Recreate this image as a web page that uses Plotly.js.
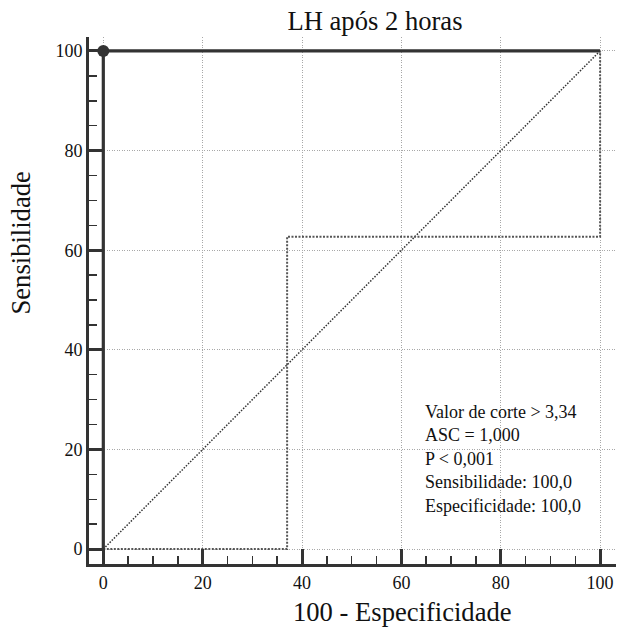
<!DOCTYPE html>
<html>
<head>
<meta charset="utf-8">
<script src="https://cdn.plot.ly/plotly-3.0.1.min.js"></script>
<style>html,body{margin:0;padding:0;background:#fff;}#chart{width:618px;height:631px;}</style>
</head>
<body>
<div id="chart"></div>
<script>
// ROC curve (100 - specificity, sensitivity)
const rocX = [0, 0, 100];
const rocY = [0, 100, 100];
// confidence bound step curve
const boundX = [0, 37, 37, 100, 100];
const boundY = [0, 0, 62.7, 62.7, 100];
// reference diagonal
const diagX = [0, 100];
const diagY = [0, 100];
// chosen cut-off point
const cutX = [0];
const cutY = [100];
// statistics box
const statLines = [
  "Valor de corte > 3,34",
  "ASC = 1,000",
  "P < 0,001",
  "Sensibilidade: 100,0",
  "Especificidade: 100,0"
];
const titleText = "LH após 2 horas";
const xTitle = "100 - Especificidade";
const yTitle = "Sensibilidade";
const tickVals = [0, 20, 40, 60, 80, 100];

const FONT = "Liberation Serif, Times New Roman, serif";
const dark = "#333333";

const traces = [
  {x: diagX, y: diagY, mode: "lines", line: {color: "#333", width: 1.5, dash: "1.5px,1.5px"}, hoverinfo: "skip"},
  {x: boundX, y: boundY, mode: "lines", line: {color: "#555", width: 2, dash: "2px,1.5px"}, hoverinfo: "skip"},
  {x: rocX, y: rocY, mode: "lines", line: {color: dark, width: 3.2}},
  {x: cutX, y: cutY, mode: "markers", marker: {color: dark, size: 12, symbol: "circle"}}
];

function makeAxis(range) {
  return {
    range: range,
    tickmode: "array",
    tickvals: tickVals,
    ticktext: tickVals.map(String),
    ticks: "inside",
    ticklen: 15,
    tickwidth: 3,
    tickcolor: dark,
    showline: true,
    linecolor: dark,
    linewidth: 3,
    showgrid: true,
    gridcolor: "#a8a8a8",
    gridwidth: 1,
    griddash: "1px,1.5px",
    zeroline: false,
    mirror: false,
    tickfont: {family: FONT, size: 18, color: "#111"},
    minor: {dtick: 5, tick0: 0, ticks: "inside", ticklen: 8, tickwidth: 1.5, tickcolor: dark, showgrid: false}
  };
}

const layout = {
  width: 618,
  height: 631,
  showlegend: false,
  font: {family: FONT, size: 18, color: "#111"},
  paper_bgcolor: "#fff",
  plot_bgcolor: "#fff",
  margin: {l: 89, r: 2, t: 37, b: 67, pad: 0},
  title: {text: titleText, font: {family: FONT, size: 26.6, color: "#111"},
          x: 375 / 618, xanchor: "center", xref: "container", y: 1 - 21 / 631, yanchor: "middle", yref: "container"},
  xaxis: makeAxis([-2.88, 103.2]),
  yaxis: makeAxis([-3.0, 102.8]),
  annotations: [
    {text: statLines.join("<br>"), x: 64.4, y: 18.1, xref: "x", yref: "y", xanchor: "left", yanchor: "middle",
     align: "left", showarrow: false, font: {family: FONT, size: 18, color: "#111"}},
    {text: xTitle, xref: "paper", yref: "paper", x: 0.5958, y: -0.0911, xanchor: "center", yanchor: "middle",
     showarrow: false, font: {family: FONT, size: 26.6, color: "#111"}},
    {text: yTitle, xref: "paper", yref: "paper", x: -0.129, y: 0.6082, xanchor: "center", yanchor: "middle",
     textangle: -90, showarrow: false, font: {family: FONT, size: 26.6, color: "#111"}}
  ]
};

Plotly.newPlot("chart", traces, layout, {displayModeBar: false, staticPlot: true});
</script>
</body>
</html>
